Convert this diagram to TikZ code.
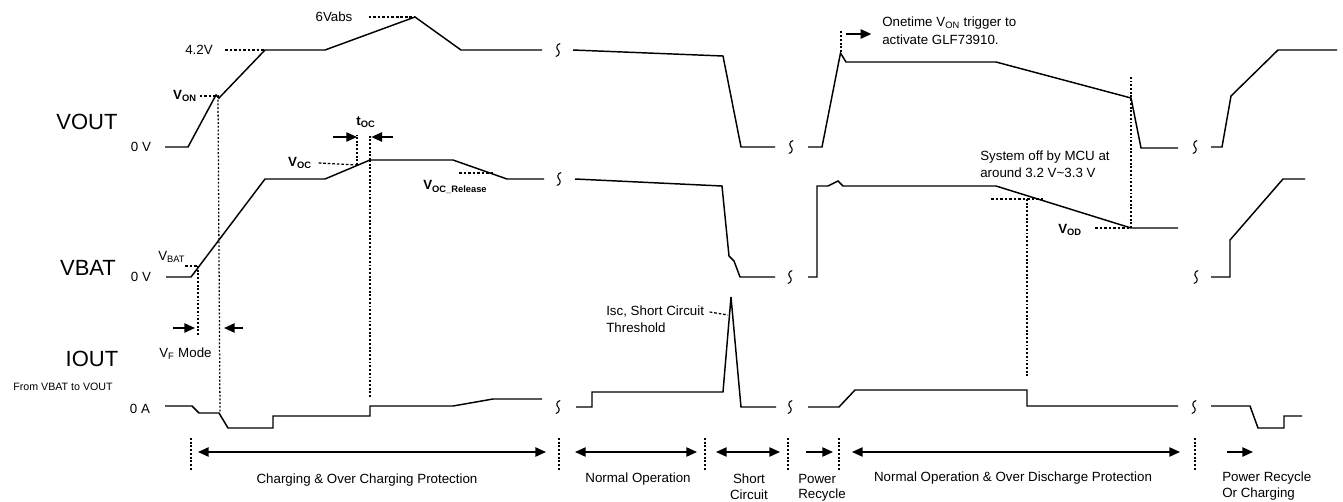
\documentclass[tikz,border=0pt]{standalone}
\usepackage{fontspec}
\setmainfont{Liberation Sans}
\usetikzlibrary{arrows.meta}
\tikzset{
  trace/.style={line width=1.1pt, line join=miter},
  vdot/.style={line width=0.95pt, dash pattern=on 1.4pt off 1.4pt},
  hdash/.style={line width=0.95pt, dash pattern=on 2pt off 1.4pt},
  arr/.style={line width=1.1pt, -{Triangle[length=8pt,width=7pt]}},
  darr/.style={line width=1.1pt, {Triangle[length=8pt,width=7pt]}-{Triangle[length=8pt,width=7pt]}},
  lbl/.style={font=\fontsize{10}{12}\selectfont, inner sep=0pt},
  big/.style={font=\fontsize{16.5}{18}\selectfont, inner sep=0pt},
  tiny/.style={font=\fontsize{8}{9}\selectfont, inner sep=0pt},
  brk/.pic={\draw[line width=0.8pt] (2.2,-6.5) .. controls (-1.8,-5.5) and (-1.8,-1.5) .. (0,0) .. controls (1.8,1.5) and (1.8,5.5) .. (-2.2,6.5);}
}
\newcommand\bsub[2]{\textbf{#1}\textsubscript{\textbf{#2}}}
\begin{document}
\begin{tikzpicture}[x=0.75pt,y=-0.75pt]
\useasboundingbox (0,0) rectangle (1343,501);

% ---------- left labels
\node[big] (vout) at (87,122) {VOUT};
\node[big] (vbat) at (88,268) {VBAT};
\node[big] (iout) at (92,359) {IOUT};
\node[tiny] (from) at (63,387) {From VBAT to VOUT};
\node[lbl] (z1) at (141,147) {0 V};
\node[lbl] (z2) at (141,277) {0 V};
\node[lbl] (z3) at (140,409) {0 A};

% ---------- VOUT trace
\draw[trace] (165,147) -- (188,147) -- (216,95) -- (219,98) -- (265,50) -- (325,50) -- (415,17) -- (461,50) -- (542,50);
\pic at (558,50) {brk};
\draw[trace] (573,50) -- (723,56) -- (741,147) -- (775,147);
\pic at (791,147) {brk};
\draw[trace] (808,147) -- (822,147) -- (840.5,53) -- (846,62) -- (996,62) -- (1131,98) -- (1141,148) -- (1178,148);
\pic at (1195,147) {brk};
\draw[trace] (1211,147) -- (1222,147) -- (1231,96) -- (1278,50) -- (1337,50);

% ---------- VBAT trace
\draw[trace] (166,277) -- (191,277) -- (265,179) -- (325,179) -- (370,160) -- (453,160) -- (507,179) -- (544,179);
\pic at (559,179) {brk};
\draw[trace] (575,179) -- (722,186) -- (729,256) -- (734,261) -- (740,277) -- (775,277);
\pic at (790,277) {brk};
\draw[trace] (808,277) -- (817,277) -- (817,186) -- (828,186) -- (838,181) -- (843,186) -- (996,186) -- (1131,228) -- (1178,228);
\pic at (1196,277) {brk};
\draw[trace] (1211,277) -- (1230,277) -- (1230,240) -- (1283,179) -- (1305,179);

% ---------- IOUT trace
\draw[trace] (165,406) -- (192,406) -- (199,413) -- (219,413) -- (228,428) -- (273,428) -- (273,416) -- (370,416) -- (370,406) -- (453,406) -- (493,399) -- (542,399);
\pic at (558,407) {brk};
\draw[trace] (576,407) -- (592,407) -- (592,392) -- (723,392) -- (731,297) -- (741,407) -- (776,407);
\pic at (790,407) {brk};
\draw[trace] (808,407) -- (839,407) -- (855,390) -- (1027,390) -- (1027,406) -- (1178,406);
\pic at (1194,407) {brk};
\draw[trace] (1211,406) -- (1250,406) -- (1258,428) -- (1284,428) -- (1284,416) -- (1302,416);

% ---------- key coordinates
\coordinate (p42) at (265,50);
\coordinate (p6) at (415,17);
\coordinate (pon) at (218,96);
\coordinate (ponlow) at (220,413);
\coordinate (pbat) at (198,266);
\coordinate (pbatlow) at (198,335);
\coordinate (poc) at (357,165);
\coordinate (poctop) at (357,135);
\coordinate (pocr) at (370,160);
\coordinate (pocrtop) at (370,135);
\coordinate (pocrlow) at (370,397);
\coordinate (prel) at (493,173);
\coordinate (pod) at (1131,228);
\coordinate (podtop) at (1131,76);
\coordinate (poff) at (1043,199);
\coordinate (pofftop) at (1027,199);
\coordinate (pofflow) at (1027,377);
\coordinate (pone) at (841,52);
\coordinate (ponetop) at (841,31);
\coordinate (pisc) at (728,315);

% ---------- value labels
\node[lbl] (v42) at (199,50) {4.2V};
\draw[hdash] ([xshift=9pt]v42.east) -- (p42);
\node[lbl] (v6) at (334,17) {6Vabs};
\draw[hdash] ([xshift=12pt]v6.east) -- (p6);
\node[lbl, anchor=east] (von) at (197,96) {\bsub{V}{ON}};
\draw[hdash] ([xshift=2pt]von.east) -- (pon);
\draw[vdot] (pon) -- (ponlow);
\node[lbl, anchor=west] (vbatl) at (158,257) {V\textsubscript{BAT}};
\draw[hdash] (185,266) -- (pbat);
\draw[vdot] (pbat) -- (pbatlow);
\node[lbl, anchor=east] (voc) at (312,163) {\bsub{V}{OC}};
\draw[hdash] ([xshift=5pt]voc.east) -- (poc);
\draw[vdot] (poc) -- (poctop);
\draw[vdot] (pocr) -- (pocrtop);
\draw[vdot] (pocr) -- (pocrlow);
\node[lbl] (toc) at (366,122) {\bsub{t}{OC}};
\coordinate (tocl) at (333,137);
\coordinate (tocr) at (393,137);
\draw[arr] (tocl) -- (poctop |- tocl);
\draw[arr] (tocr) -- ([xshift=1pt]pocrtop |- tocr);
\node[lbl, anchor=west] (vrel) at (423,187) {\bsub{V}{OC\_Release}};
\draw[hdash] (459,173) -- (prel);
\node[lbl, anchor=west] (vod) at (1058,230) {\bsub{V}{OD}};
\draw[hdash] (1095,228) -- (pod);
\draw[vdot] (pod) -- (podtop);
\node[lbl, anchor=west] (vf) at (159,354) {V\textsubscript{F} Mode};
\coordinate (vfl) at (173,328);
\coordinate (vfr) at (243,328);
\draw[arr] (vfl) -- (195,328);
\draw[arr] (vfr) -- (224,328);

\node[lbl, anchor=west] (one1) at (882,23) {Onetime V\textsubscript{ON} trigger to};
\node[lbl, anchor=west] (one2) at (882,40) {activate GLF73910.};
\draw[vdot] (pone) -- (ponetop);
\draw[arr] (846,34) -- ([xshift=-8pt]one1.west |- 846,34);

\node[lbl, anchor=west] (sys1) at (980,157) {System off by MCU at};
\node[lbl, anchor=west] (sys2) at (980,173) {around 3.2 V\textasciitilde 3.3 V};
\draw[hdash] (991,199) -- (poff);
\draw[vdot] (pofftop) -- (pofflow);

\node[lbl, anchor=west] (isc1) at (606,312) {Isc, Short Circuit};
\node[lbl, anchor=west] (isc2) at (606,328) {Threshold};
\draw[hdash] ([xshift=4pt]isc1.east) -- (pisc);

% ---------- phase separators and arrows
\foreach \x/\n in {191/s1,559/s2,705/s3,788/s4,839/s5,1195/s6}{
  \coordinate (\n t) at (\x,438);
  \coordinate (\n b) at (\x,470);
  \draw[vdot] (\n t) -- (\n b);
}
\draw[darr] (198,452) -- (546,452);
\draw[darr] (575,452) -- (697,452);
\draw[darr] (716,452) -- (780,452);
\draw[arr] (806,452) -- (833,452);
\draw[darr] (852,452) -- (1180,452);
\draw[arr] (1227,452) -- (1253,452);

\node[lbl] (ph1) at (367,480) {Charging \& Over Charging Protection};
\node[lbl] (ph2) at (638,479) {Normal Operation};
\node[lbl] (ph3a) at (749,479) {Short};
\node[lbl] (ph3b) at (749,495) {Circuit};
\node[lbl, anchor=west] (ph4a) at (798,479) {Power};
\node[lbl, anchor=west] (ph4b) at (798,495) {Recycle};
\node[lbl] (ph5) at (1013,478) {Normal Operation \& Over Discharge Protection};
\node[lbl, anchor=west] (ph6a) at (1222,478) {Power Recycle};
\node[lbl, anchor=west] (ph6b) at (1222,494) {Or Charging};
\end{tikzpicture}
\end{document}
